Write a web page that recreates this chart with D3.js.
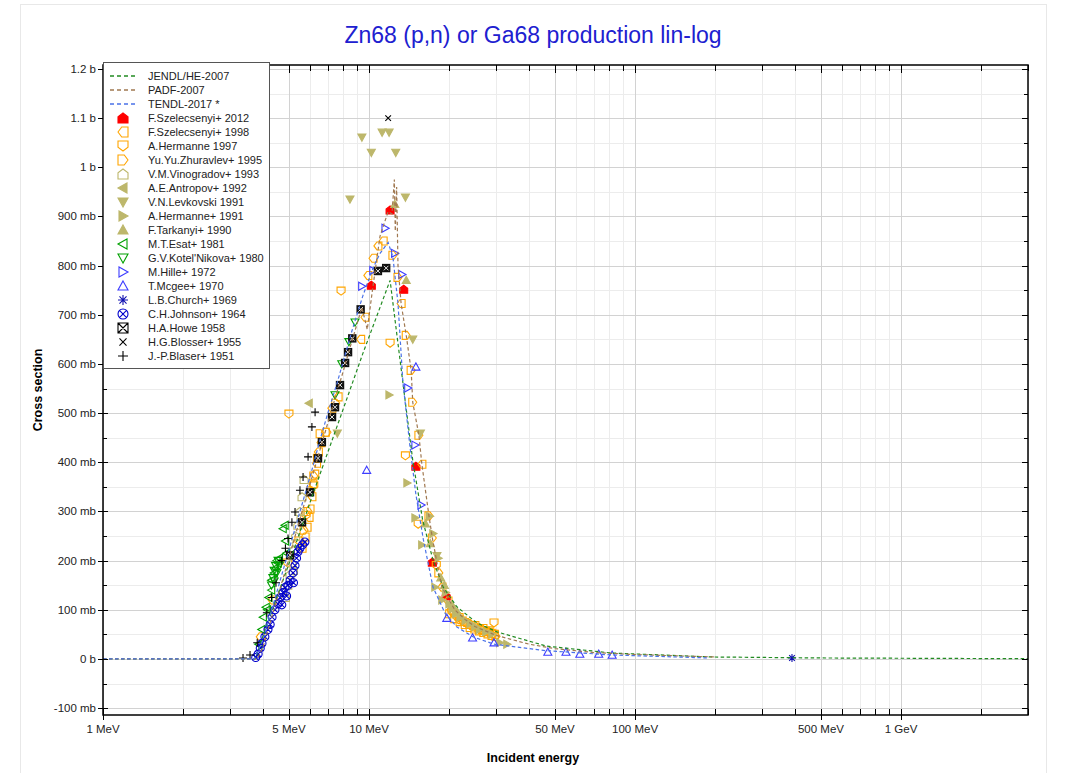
<!DOCTYPE html>
<html><head><meta charset="utf-8">
<script src="https://cdn.jsdelivr.net/npm/d3@7"></script>
<style>body{margin:0;background:#fff;} text{font-family:"Liberation Sans",Arial,sans-serif;}</style>
</head><body><svg id="c" width="1071" height="773"></svg>
<script>
// ---------- DATA (energy in MeV, cross section in mb) ----------
const xTickValues = [1,5,10,50,100,500,1000];
const xTickLabels = ["1 MeV","5 MeV","10 MeV","50 MeV","100 MeV","500 MeV","1 GeV"];
const xMinorValues = [2,3,4,6,7,8,9,20,30,40,60,70,80,90,200,300,400,600,700,800,900,2000,3000];
const yTickValues = [-100,0,100,200,300,400,500,600,700,800,900,1000,1100,1200];
const yTickLabels = ["-100 mb","0 b","100 mb","200 mb","300 mb","400 mb","500 mb","600 mb","700 mb","800 mb","900 mb","1 b","1.1 b","1.2 b"];

const jendl = [[1,0],[3.73,0],[4.06,58],[5.05,200],[6.15,335],[7.78,490],[9.49,622],[11.0,715],[12.0,770],[13.08,608],[13.66,527],[14.6,404],[15.9,283],[17.4,201],[19.0,146],[21.4,106],[25.5,73],[30.3,55],[46.5,26],[82,12],[196,4],[500,2],[3000,0.5]];
const padf = [[1,0],[3.8,0],[4.0,25],[4.5,120],[5.0,205],[5.5,285],[6.0,355],[6.5,420],[7.0,480],[7.5,535],[8.0,585],[8.5,635],[9.0,680],[9.4,715],[9.85,670],[10.3,750],[11.0,860],[11.8,910],[12.2,905],[12.45,975],[12.55,870],[12.7,960],[12.85,800],[13.2,723],[13.8,658],[14.4,587],[14.6,522],[15.4,455],[15.8,396],[16.8,291],[17.3,246],[18.3,175],[18.8,146],[19.6,128],[21,100],[23,80],[25,66],[30,48],[40,30],[50,21],[70,13],[100,9],[150,6],[200,4]];
const tendl = [[1,0],[3.7,0],[4.0,40],[4.25,89],[4.63,159],[5.05,230],[5.5,300],[6.0,370],[6.5,440],[7.0,500],[7.64,567],[8.6,665],[9.5,740],[10.35,795],[11.0,825],[11.8,847],[12.3,817],[12.85,723],[13.4,565],[14.26,431],[15.0,335],[16,243],[17.4,146],[19.3,93],[21.4,65],[24.6,45],[29.5,30],[46,17],[82,8],[190,2]];

const szel2012 = [[10.2,760],[12.0,913],[13.5,752],[15.0,392],[17.3,197],[19.5,128]];
const szel1998 = [[3.9,45],[4.32,120],[5.6,225],[5.75,248],[5.85,268],[5.95,288],[6.0,305],[6.1,330],[6.15,356],[6.25,376],[6.35,398],[6.45,421],[6.6,440],[6.85,461],[7.25,510],[7.65,533],[9.3,650],[9.66,695],[9.9,780],[10.35,815],[10.8,840],[11.3,850],[13.2,723],[15.8,396],[18.8,146],[19.8,118],[20.3,100],[20.8,92],[21.3,86],[21.8,80],[22.4,77],[22.9,74],[23.5,70],[24.1,68],[24.7,65],[25.3,63],[26,60],[26.7,58],[27.4,56],[28.1,54],[28.8,52],[29.6,50]];
const hermanne1997 = [[4.95,195],[5.0,498],[5.45,240],[5.8,292],[6.2,352],[7.85,748],[12.0,642],[13.7,413],[15.3,274],[17.9,190],[20.5,95],[21.8,84],[23.3,72],[25,68],[26.8,62],[28.3,57],[29.5,73],[29.2,50]];
const zhuravlev = [[5.7,262],[5.9,300],[6.05,342],[6.2,372],[6.4,408],[6.55,458],[6.95,461],[7.5,520],[12.3,821],[12.85,776],[13.8,658],[14.4,587],[14.6,522],[15.4,455],[16.8,291],[17.3,246],[18.3,175],[20.1,92],[21,82],[22,76],[23,70],[24,64],[25,61],[26,57],[27,54],[28,51],[29,48],[30,46]];
const vinogradov = [[4.85,125],[4.95,150],[5.05,172],[5.13,195],[5.2,222],[5.2,180],[5.3,250],[5.35,236],[5.4,272],[5.5,300],[5.55,287],[5.6,330],[5.7,365]];
const antropov = [[5.95,520]];
const levkovski = [[7.6,459],[8.48,935],[9.4,1061],[10.2,1030],[11.2,1071],[11.9,1071],[12.6,1030],[13.7,939],[14.6,650],[15.6,459],[18.0,210]];
const hermanne1991 = [[11.9,537],[13.9,358],[14.9,287],[15.8,232],[16.9,290],[17.4,255],[17.7,146],[18.2,205],[18.8,120],[19.4,135],[20,112],[20.6,102],[21.2,92],[22,85],[23,78],[24,72],[25,66],[26,60],[27.5,55],[29,50],[31,33],[33,30]];
const tarkanyi = [[12.5,925],[13.8,770],[16.3,275],[17.0,235],[18.6,165],[19.2,150],[20.5,110],[21.5,95]];
const esat = [[3.85,30],[3.95,60],[4.0,85],[4.1,105],[4.15,100],[4.2,125],[4.3,140],[4.3,160],[4.4,175],[4.45,185],[4.5,200],[4.55,195],[4.6,205],[4.75,265],[4.85,240],[4.9,215],[4.83,272]];
const kotelnikova = [[4.3,150],[4.35,165],[4.4,180],[4.45,190],[4.5,175],[4.55,200],[4.4,158],[4.6,190],[7.45,537],[7.9,600],[8.4,645],[8.86,685]];
const hille = [[9.4,758],[10.35,790],[11.5,876],[12.5,825],[13.3,782],[14.0,551],[14.9,435],[15.7,313]];
const mcgee = [[9.8,384],[15.0,594],[19.6,83],[24.5,43],[29.5,33],[47,14],[55,14],[62,10],[73,10],[82,8]];
const church = [[389,2]];
const johnson = [[3.75,3],[3.83,10],[3.9,22],[3.96,32],[4.06,45],[4.17,60],[4.25,70],[4.32,85],[4.43,100],[4.55,112],[4.63,125],[4.75,135],[4.83,145],[4.96,150],[5.05,160],[5.18,175],[5.27,190],[5.34,205],[5.41,218],[5.5,225],[5.62,232],[5.74,238],[4.7,110],[4.9,128],[5.2,155]];
const howe = [[5.05,211],[5.6,278],[6.0,339],[6.43,408],[6.65,441],[7.26,492],[7.45,512],[7.78,557],[8.13,602],[8.34,624],[8.65,652],[9.3,711],[10.8,789],[11.6,795]];
const blosser = [[11.8,1100]];
const blaser = [[3.36,2],[3.57,8],[3.8,33],[4.13,94],[4.3,125],[4.47,155],[4.7,200],[4.85,225],[4.96,245],[5.13,278],[5.27,299],[5.5,343],[5.65,370],[5.9,411],[6.1,472],[6.27,502]];

// ---------- STYLES ----------
const curves = [
  {name:"JENDL/HE-2007", data:jendl, color:"#228b22"},
  {name:"PADF-2007", data:padf, color:"#a07850"},
  {name:"TENDL-2017 *", data:tendl, color:"#4a72e8"}
];
const KH="#bdb76b", OR="#ffa500", GR="#00a000", BL="#3d3dff", DB="#0000cc";
const series = [
  {name:"F.Szelecsenyi+ 2012", data:szel2012, shape:"house", rot:0, color:"#ff0000", fill:true},
  {name:"F.Szelecsenyi+ 1998", data:szel1998, shape:"house", rot:-90, color:OR, fill:false},
  {name:"A.Hermanne 1997", data:hermanne1997, shape:"house", rot:180, color:OR, fill:false},
  {name:"Yu.Yu.Zhuravlev+ 1995", data:zhuravlev, shape:"house", rot:90, color:OR, fill:false},
  {name:"V.M.Vinogradov+ 1993", data:vinogradov, shape:"house", rot:0, color:KH, fill:false},
  {name:"A.E.Antropov+ 1992", data:antropov, shape:"tri", rot:-90, color:KH, fill:true},
  {name:"V.N.Levkovski 1991", data:levkovski, shape:"tri", rot:180, color:KH, fill:true},
  {name:"A.Hermanne+ 1991", data:hermanne1991, shape:"tri", rot:90, color:KH, fill:true},
  {name:"F.Tarkanyi+ 1990", data:tarkanyi, shape:"tri", rot:0, color:KH, fill:true},
  {name:"M.T.Esat+ 1981", data:esat, shape:"tri", rot:-90, color:GR, fill:false},
  {name:"G.V.Kotel'Nikova+ 1980", data:kotelnikova, shape:"tri", rot:180, color:GR, fill:false},
  {name:"M.Hille+ 1972", data:hille, shape:"tri", rot:90, color:BL, fill:false},
  {name:"T.Mcgee+ 1970", data:mcgee, shape:"tri", rot:0, color:BL, fill:false},
  {name:"L.B.Church+ 1969", data:church, shape:"ast", rot:0, color:"#1010b0", fill:false},
  {name:"C.H.Johnson+ 1964", data:johnson, shape:"cx", rot:0, color:DB, fill:false},
  {name:"H.A.Howe 1958", data:howe, shape:"sqx", rot:0, color:"#000", fill:false, solid:true},
  {name:"H.G.Blosser+ 1955", data:blosser, shape:"x", rot:0, color:"#000", fill:false},
  {name:"J.-P.Blaser+ 1951", data:blaser, shape:"plus", rot:0, color:"#000", fill:false}
];

function shapePath(t, r){
  const k=r*0.707;
  switch(t){
    case "house": return `M0,${-r}L${r},${-r*0.25}L${r},${r}L${-r},${r}L${-r},${-r*0.25}Z`;
    case "tri": return `M0,${-r}L${r},${r*0.8}L${-r},${r*0.8}Z`;
    case "cx": return `M${-r},0A${r},${r} 0 1,0 ${r},0A${r},${r} 0 1,0 ${-r},0ZM${-k},${-k}L${k},${k}M${k},${-k}L${-k},${k}`;
    case "sqx": return `M${-r},${-r}H${r}V${r}H${-r}ZM${-r},${-r}L${r},${r}M${r},${-r}L${-r},${r}`;
    case "ast": return `M0,${-r}V${r}M${-r},0H${r}M${-k},${-k}L${k},${k}M${k},${-k}L${-k},${k}`;
    case "x": return `M${-k},${-k}L${k},${k}M${k},${-k}L${-k},${k}`;
    case "plus": return `M0,${-r}V${r}M${-r},0H${r}`;
  }
}

// ---------- CHART ----------
const svg = d3.select("#c");
const M = {l:103, r:1028, t:65, b:715};
const x = d3.scaleLog().domain([1,3000]).range([M.l,M.r]);
const y = d3.scaleLinear().domain([-114,1208]).range([M.b,M.t]);

svg.append("rect").attr("x",20.5).attr("y",4.5).attr("width",1026).attr("height",800)
  .attr("fill","none").attr("stroke","#e8e8e8");

svg.append("defs").append("clipPath").attr("id","clip").append("rect")
  .attr("x",M.l).attr("y",M.t).attr("width",M.r-M.l).attr("height",M.b-M.t);

const grid = svg.append("g");
const yMinor = yTickValues.map(v=>v+50).filter(v=>v<1208);
grid.selectAll(".hm").data(yMinor).join("line")
  .attr("x1",M.l).attr("x2",M.r).attr("y1",d=>Math.round(y(d))+0.5).attr("y2",d=>Math.round(y(d))+0.5)
  .attr("stroke","#ececec");
grid.selectAll(".vm").data(xMinorValues).join("line")
  .attr("y1",M.t).attr("y2",M.b).attr("x1",d=>Math.round(x(d))+0.5).attr("x2",d=>Math.round(x(d))+0.5)
  .attr("stroke","#ececec");
grid.selectAll(".hM").data(yTickValues).join("line")
  .attr("x1",M.l).attr("x2",M.r).attr("y1",d=>Math.round(y(d))+0.5).attr("y2",d=>Math.round(y(d))+0.5)
  .attr("stroke","#d2d2d2");
grid.selectAll(".vM").data(xTickValues).join("line")
  .attr("y1",M.t).attr("y2",M.b).attr("x1",d=>Math.round(x(d))+0.5).attr("x2",d=>Math.round(x(d))+0.5)
  .attr("stroke","#d2d2d2");

// markers
const mk = svg.append("g").attr("clip-path","url(#clip)");
series.forEach(s=>{
  const g = mk.append("g");
  if (s.solid) {
    g.selectAll("rect").data(s.data).join("rect")
      .attr("x",d=>x(d[0])-4.2).attr("y",d=>y(d[1])-4.2).attr("width",8.4).attr("height",8.4)
      .attr("fill","#111");
    g.selectAll("path").data(s.data).join("path")
      .attr("transform",d=>`translate(${x(d[0])},${y(d[1])})`)
      .attr("d",shapePath("x",3.2)).attr("stroke","#fff").attr("stroke-width",0.9).attr("fill","none");
    return;
  }
  g.selectAll("path").data(s.data).join("path")
    .attr("transform",d=>`translate(${x(d[0])},${y(d[1])}) rotate(${s.rot})`)
    .attr("d",shapePath(s.shape, 4))
    .attr("fill", s.fill? s.color : "none")
    .attr("stroke", s.color)
    .attr("stroke-width", 1.1);
});

// curves
const line = d3.line().x(d=>x(d[0])).y(d=>y(d[1]));
const cg = svg.append("g").attr("clip-path","url(#clip)");
curves.forEach(c=>{
  cg.append("path").attr("d",line(c.data)).attr("fill","none")
    .attr("stroke",c.color).attr("stroke-width",1.2).attr("stroke-dasharray","3.5,2.5");
});

// frame
svg.append("rect").attr("x",M.l).attr("y",M.t).attr("width",M.r-M.l).attr("height",M.b-M.t)
  .attr("fill","none").attr("stroke","#000").attr("stroke-width",1.5);

// ticks
const tk = svg.append("g").attr("stroke","#000").attr("stroke-width",1);
xTickValues.forEach(v=>{
  const px=Math.round(x(v))+0.5;
  tk.append("line").attr("x1",px).attr("x2",px).attr("y1",M.b-6).attr("y2",M.b+5);
  tk.append("line").attr("x1",px).attr("x2",px).attr("y1",M.t).attr("y2",M.t+8);
});
xMinorValues.forEach(v=>{
  const px=Math.round(x(v))+0.5;
  tk.append("line").attr("x1",px).attr("x2",px).attr("y1",M.b-6).attr("y2",M.b);
  tk.append("line").attr("x1",px).attr("x2",px).attr("y1",M.t).attr("y2",M.t+6);
});
yTickValues.forEach(v=>{
  const py=Math.round(y(v))+0.5;
  tk.append("line").attr("x1",M.l-5).attr("x2",M.l+5).attr("y1",py).attr("y2",py);
  tk.append("line").attr("x1",M.r-6).attr("x2",M.r).attr("y1",py).attr("y2",py);
});
yMinor.forEach(v=>{
  const py=Math.round(y(v))+0.5;
  tk.append("line").attr("x1",M.l).attr("x2",M.l+4).attr("y1",py).attr("y2",py);
  tk.append("line").attr("x1",M.r-4).attr("x2",M.r).attr("y1",py).attr("y2",py);
});

// tick labels
svg.append("g").selectAll("text").data(xTickValues).join("text")
  .attr("x",d=>x(d)).attr("y",733).attr("text-anchor","middle")
  .attr("font-size",11.5).attr("fill","#222").text((d,i)=>xTickLabels[i]);
svg.append("g").selectAll("text").data(yTickValues).join("text")
  .attr("x",96).attr("y",d=>y(d)+4).attr("text-anchor","end")
  .attr("font-size",11.5).attr("fill","#222").text((d,i)=>yTickLabels[i]);

// titles
svg.append("text").attr("x",533).attr("y",43).attr("text-anchor","middle")
  .attr("font-size",23).attr("fill","#2020d0").text("Zn68 (p,n) or Ga68 production lin-log");
svg.append("text").attr("x",533).attr("y",762).attr("text-anchor","middle")
  .attr("font-size",12.5).attr("font-weight","bold").text("Incident energy");
svg.append("text").attr("transform","translate(42,390) rotate(-90)").attr("text-anchor","middle")
  .attr("font-size",12.5).attr("font-weight","bold").text("Cross section");

// legend
const lg = svg.append("g");
lg.append("rect").attr("x",M.l+0.5).attr("y",62.5).attr("width",166).attr("height",306)
  .attr("fill","#fff").attr("stroke","#555").attr("stroke-width",1);
const ly0=76, ldy=14;
curves.forEach((c,i)=>{
  const yy=ly0+i*ldy;
  lg.append("line").attr("x1",110).attr("x2",136).attr("y1",yy).attr("y2",yy)
    .attr("stroke",c.color).attr("stroke-width",1.5).attr("stroke-dasharray","4,3");
  lg.append("text").attr("x",148).attr("y",yy+4).attr("font-size",11).attr("fill","#222").text(c.name);
});
series.forEach((s,i)=>{
  const yy=ly0+(i+3)*ldy;
  lg.append("path").attr("transform",`translate(123,${yy}) rotate(${s.rot})`)
    .attr("d",shapePath(s.shape,5))
    .attr("fill", s.fill? s.color : "none").attr("stroke",s.color).attr("stroke-width",1.1);
  lg.append("text").attr("x",148).attr("y",yy+4).attr("font-size",11).attr("fill","#222").text(s.name);
});
</script></body></html>
